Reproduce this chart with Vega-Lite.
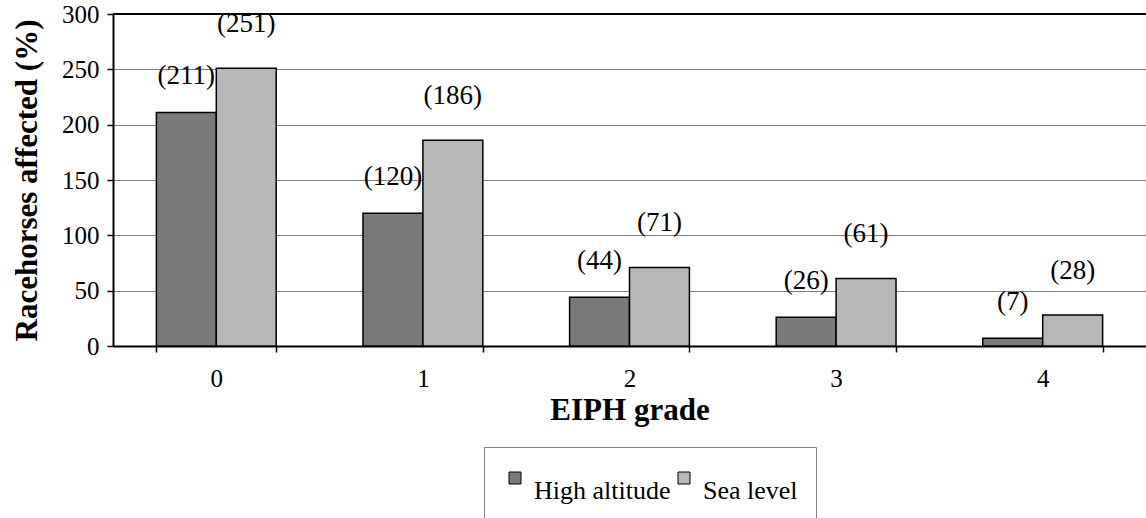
{
  "$schema": "https://vega.github.io/schema/vega-lite/v6.json",
  "autosize": {"type": "none"},
  "padding": {"left": 113, "top": 14, "right": 0, "bottom": 172},
  "width": 1033,
  "height": 332,
  "background": "white",
  "config": {
    "view": {"stroke": null},
    "font": "Liberation Serif"
  },
  "data": {
    "values": [
      {"grade": "0", "series": "High altitude", "value": 211, "label": "(211)"},
      {"grade": "0", "series": "Sea level", "value": 251, "label": "(251)"},
      {"grade": "1", "series": "High altitude", "value": 120, "label": "(120)"},
      {"grade": "1", "series": "Sea level", "value": 186, "label": "(186)"},
      {"grade": "2", "series": "High altitude", "value": 44, "label": "(44)"},
      {"grade": "2", "series": "Sea level", "value": 71, "label": "(71)"},
      {"grade": "3", "series": "High altitude", "value": 26, "label": "(26)"},
      {"grade": "3", "series": "Sea level", "value": 61, "label": "(61)"},
      {"grade": "4", "series": "High altitude", "value": 7, "label": "(7)"},
      {"grade": "4", "series": "Sea level", "value": 28, "label": "(28)"}
    ]
  },
  "layer": [
    {
      "mark": {"type": "bar", "stroke": "black", "strokeWidth": 1.5},
      "encoding": {
        "x": {
          "field": "grade", "type": "ordinal",
          "scale": {"paddingInner": 0.42, "paddingOuter": 0.21},
          "axis": {
            "labelAngle": 0, "tickBand": "extent", "domainColor": "black", "domainWidth": 2,
            "tickColor": "black", "tickSize": 6, "tickWidth": 1.5, "labelFontSize": 25, "labelColor": "black",
            "labelPadding": 14, "title": "EIPH grade", "titleFontSize": 31, "titleFontWeight": "bold",
            "titleColor": "black", "titlePadding": 4, "grid": false,
            "labelFont": "Liberation Serif", "titleFont": "Liberation Serif"
          }
        },
        "xOffset": {"field": "series", "type": "nominal", "scale": {"paddingInner": 0, "paddingOuter": 0}},
        "y": {
          "field": "value", "type": "quantitative",
          "scale": {"domain": [0, 300], "nice": false},
          "axis": {
            "values": [0, 50, 100, 150, 200, 250, 300], "grid": true, "gridColor": "#808080", "gridWidth": 1,
            "domainColor": "black", "domainWidth": 2, "tickColor": "black", "tickSize": 6, "tickWidth": 1.5,
            "labelFontSize": 25, "labelColor": "black", "labelPadding": 8,
            "title": "Racehorses affected (%)", "titleFontSize": 31, "titleFontWeight": "bold", "titleColor": "black",
            "titlePadding": 18,
            "labelFont": "Liberation Serif", "titleFont": "Liberation Serif"
          }
        },
        "color": {
          "field": "series", "type": "nominal",
          "scale": {"domain": ["High altitude", "Sea level"], "range": ["#7a7a7a", "#b8b8b8"]},
          "legend": {
            "orient": "none", "legendX": 371, "legendY": 433, "direction": "horizontal", "title": null,
            "labelFontSize": 26, "labelColor": "black", "labelFont": "Liberation Serif",
            "symbolType": "square", "symbolSize": 144,
            "symbolStrokeColor": "black", "symbolStrokeWidth": 1, "symbolOpacity": 1,
            "strokeColor": "#808080", "fillColor": "white", "padding": 18,
            "columnPadding": -3, "labelOffset": 6, "labelBaseline": "top", "labelLimit": 400
          }
        }
      }
    },
    {
      "transform": [{"filter": "datum.series === 'High altitude'"}],
      "mark": {"type": "text", "dy": -36, "fontSize": 27, "baseline": "middle", "color": "black", "font": "Liberation Serif"},
      "encoding": {
        "x": {"field": "grade", "type": "ordinal"},
        "xOffset": {"field": "series", "type": "nominal"},
        "y": {"field": "value", "type": "quantitative"},
        "text": {"field": "label"}
      }
    },
    {
      "transform": [{"filter": "datum.series === 'Sea level'"}],
      "mark": {"type": "text", "dy": -44, "fontSize": 27, "baseline": "middle", "color": "black", "font": "Liberation Serif"},
      "encoding": {
        "x": {"field": "grade", "type": "ordinal"},
        "xOffset": {"field": "series", "type": "nominal"},
        "y": {"field": "value", "type": "quantitative"},
        "text": {"field": "label"}
      }
    },
    {
      "mark": {"type": "rule", "color": "black", "strokeWidth": 2},
      "encoding": {"y": {"datum": 300}}
    }
  ]
}
